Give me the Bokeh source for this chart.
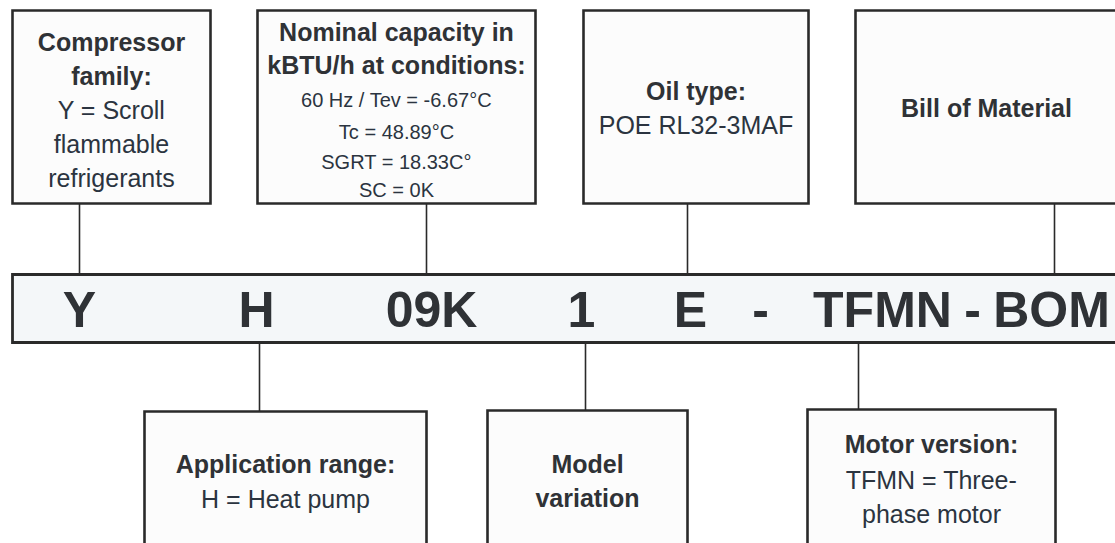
from bokeh.plotting import figure
from bokeh.models import Range1d
from bokeh.core.properties import value
from bokeh.embed import file_html
from bokeh.resources import INLINE

# ---------------- content (texts of the diagram) ----------------
code_parts = ["Y", "H", "09K", "1", "E", "-", "TFMN", "-", "BOM"]

top_titles = [
    ["Compressor", "family:"],
    ["Nominal capacity in", "kBTU/h at conditions:"],
    ["Oil type:"],
    ["Bill of Material"],
]
top_details = [
    ["Y = Scroll", "flammable", "refrigerants"],
    ["60 Hz / Tev = -6.67°C", "Tc = 48.89°C", "SGRT = 18.33C°", "SC = 0K"],
    ["POE RL32-3MAF"],
    [],
]
bottom_titles = [
    ["Application range:"],
    ["Model", "variation"],
    ["Motor version:"],
]
bottom_details = [
    ["H = Heat pump"],
    [],
    ["TFMN = Three-", "phase motor"],
]

# ---------------- layout (pixel geometry, y grows downward) ----------------
W, H = 1115, 543
top_boxes = [(12, 210, 10, 203), (257, 535, 10, 203), (583, 808, 10, 203), (855, 1117, 10, 203)]
top_links = [79, 426, 687, 1054]
top_title_mid = [[41, 75], [31, 64], [90], [107]]
top_detail_mid = [[109, 143, 177], [99, 131, 161, 189], [124], []]
top_detail_size = ["25px", "20px", "25px", "25px"]

bar = (12, 1140, 274, 342)
code_x = [79, 256, 431, 581, 690, 760, 882, 972, 1051]
code_mid = 309

bottom_boxes = [(144, 426, 411, 580), (487, 687, 410, 580), (807, 1055, 409, 580)]
bottom_links = [259, 585, 858]
bottom_title_mid = [[463], [463, 497], [443]]
bottom_detail_mid = [[498], [], [479, 513]]

EDGE = "#2a2a2a"
BOLD = "#2f3236"
REG = "#2b3440"
FONT = value("Liberation Sans")

p = figure(width=W, height=H, x_range=Range1d(0, W), y_range=Range1d(H, 0),
           toolbar_location=None, output_backend="svg", min_border=0)
p.axis.visible = False
p.grid.visible = False
p.outline_line_color = None
p.background_fill_color = "white"
p.border_fill_color = "white"

# connectors
seg_x0, seg_y0, seg_x1, seg_y1 = [], [], [], []
for x, b in zip(top_links, top_boxes):
    seg_x0.append(x); seg_y0.append(b[3]); seg_x1.append(x); seg_y1.append(bar[2])
for x, b in zip(bottom_links, bottom_boxes):
    seg_x0.append(x); seg_y0.append(bar[3]); seg_x1.append(x); seg_y1.append(b[2])
p.segment(seg_x0, seg_y0, seg_x1, seg_y1, line_color=EDGE, line_width=1.6)

# boxes
boxes = top_boxes + bottom_boxes
p.quad(left=[b[0] for b in boxes], right=[b[1] for b in boxes],
       top=[b[2] for b in boxes], bottom=[b[3] for b in boxes],
       fill_color="#fcfcfc", line_color=EDGE, line_width=2.6, line_join="miter")
p.quad(left=[bar[0]], right=[bar[1]], top=[bar[2]], bottom=[bar[3]],
       fill_color="#f4f7f9", line_color=EDGE, line_width=2.8, line_join="miter")

# code text
p.text(x=code_x, y=[code_mid] * len(code_parts), text=code_parts,
       text_font=FONT, text_font_style="bold", text_font_size="50px",
       text_color=BOLD, text_align="center", text_baseline="middle")


def box_texts(box_list, titles, tmids, details, dmids, dsizes):
    for i, b in enumerate(box_list):
        cx = (b[0] + b[1]) / 2
        if titles[i]:
            p.text(x=[cx] * len(titles[i]), y=tmids[i], text=titles[i],
                   text_font=FONT, text_font_style="bold", text_font_size="25px",
                   text_color=BOLD, text_align="center", text_baseline="middle")
        if details[i]:
            p.text(x=[cx] * len(details[i]), y=dmids[i], text=details[i],
                   text_font=FONT, text_font_size=dsizes[i],
                   text_color=REG, text_align="center", text_baseline="middle")


box_texts(top_boxes, top_titles, top_title_mid, top_details, top_detail_mid, top_detail_size)
box_texts(bottom_boxes, bottom_titles, bottom_title_mid, bottom_details, bottom_detail_mid,
          ["25px"] * 3)

open("out.html", "w").write(file_html(p, INLINE))
